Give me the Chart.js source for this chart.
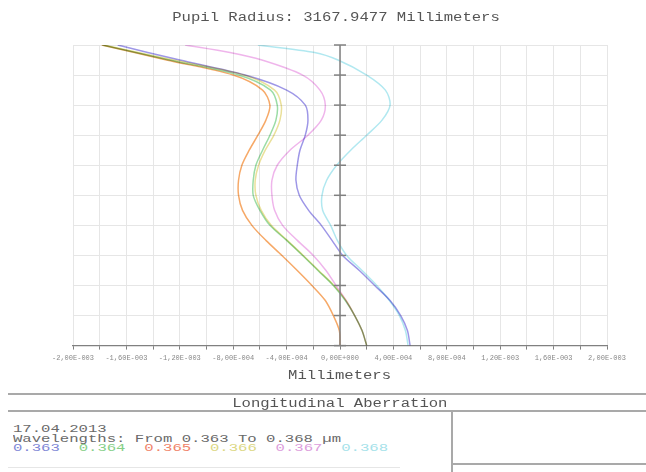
<!DOCTYPE html>
<html>
<head>
<meta charset="utf-8">
<title>Longitudinal Aberration</title>
<script src="https://cdn.jsdelivr.net/npm/chart.js@4.4.0/dist/chart.umd.min.js"></script>
<style>
  html, body { margin: 0; padding: 0; background: #fff; }
  body { width: 646px; height: 472px; position: relative; overflow: hidden;
         font-family: 'Liberation Mono', 'DejaVu Sans Mono', monospace; color: #555; }
  #chartWrap { position: absolute; left: 0; top: 0; width: 646px; height: 390px; }
  .hline { position: absolute; height: 0; border-top: 2px solid #a9a9a9; }
  .vline { position: absolute; width: 0; border-left: 2px solid #a9a9a9; }
  /* the original capture is stretched sideways, so the mono text is widened */
  .row { position: absolute; text-align: center; white-space: pre; font-size: 12px; line-height: 14px; }
  .row span.wide { display: inline-block; transform: scaleX(1.3); }
  #info { position: absolute; left: 13px; top: 425px; font-size: 11px; line-height: 9.5px;
          white-space: pre; color: #6a6a6a; transform: scaleX(1.42); transform-origin: left top; }
</style>
</head>
<body>
<div id="chartWrap"><canvas id="aberChart" width="646" height="390"></canvas></div>

<div class="row" style="left:0; width:672px; top:11px; color:#555;"><span class="wide">Pupil Radius: 3167.9477 Millimeters</span></div>
<div class="row" style="left:0; width:680px; top:369px; color:#555;"><span class="wide">Millimeters</span></div>

<div class="hline" style="left:8px; width:638px; top:393px;"></div>
<div class="row" style="left:0; width:680px; top:397px; color:#555;"><span class="wide">Longitudinal Aberration</span></div>
<div class="hline" style="left:8px; width:638px; top:410px;"></div>
<div class="vline" style="left:451px; top:411px; height:61px;"></div>
<div class="hline" style="left:452px; width:194px; top:463px;"></div>
<div class="hline" style="left:8px; width:392px; top:467px; border-top:1px solid #e6e6e6;"></div>

<div id="info">17.04.2013
Wavelengths: From 0.363 To 0.368 µm
<span id="wlList"></span></div>

<script>
(function() {
  // ----- DATA -----
  // normalized pupil coordinate (vertical axis)
  const pupil = [0, 0.05, 0.1, 0.15, 0.2, 0.25, 0.3, 0.35, 0.4, 0.45, 0.5,
                 0.55, 0.6, 0.65, 0.7, 0.75, 0.8, 0.85, 0.9, 0.95, 0.975, 1];

  const wavelengths = ['0.363', '0.364', '0.365', '0.366', '0.367', '0.368'];

  // longitudinal aberration in millimeters, one list per wavelength
  const ab363 = [0.000525, 0.000505, 0.000455, 0.000375, 0.00026, 0.000145, 0.00002, -0.00006, -0.00014, -0.000235, -0.000305,
                 -0.00033, -0.00032, -0.0003, -0.00026, -0.00024, -0.00026, -0.0004, -0.00071, -0.0012, -0.00144, -0.001665];
  const ab364 = [0.0002, 0.000165, 0.00011, 0.00004, -0.00005, -0.000165, -0.00028, -0.0004, -0.000525, -0.0006, -0.00065,
                 -0.00065, -0.00063, -0.00058, -0.000525, -0.00048, -0.00047, -0.00052, -0.00076, -0.00128, -0.00153, -0.00178];
  const ab365 = [0, -0.000005, -0.00005, -0.00011, -0.00021, -0.00032, -0.000435, -0.000555, -0.00066, -0.00073, -0.00076,
                 -0.00076, -0.000735, -0.00068, -0.000615, -0.000555, -0.000525, -0.00058, -0.0008, -0.0013, -0.00154, -0.001785];
  const ab366 = [0.0002, 0.000165, 0.00011, 0.000045, -0.000045, -0.00016, -0.000275, -0.000395, -0.000515, -0.00059, -0.00063,
                 -0.000635, -0.00061, -0.00056, -0.000495, -0.00045, -0.00044, -0.00049, -0.00072, -0.00125, -0.00151, -0.00177];
  const ab367 = [0.0002, 0.000165, 0.00011, 0.000045, -0.00003, -0.000105, -0.0002, -0.00032, -0.00043, -0.00049, -0.00051,
                 -0.00051, -0.00047, -0.000375, -0.00024, -0.00014, -0.00011, -0.00015, -0.00028, -0.000585, -0.000825, -0.00116];
  const ab368 = [0.00051, 0.00049, 0.000445, 0.00037, 0.000275, 0.000165, 0.00005, -0.00002, -0.00007, -0.00013, -0.000135,
                 -0.0001, -0.000025, 0.00008, 0.0002, 0.000315, 0.000375, 0.00034, 0.0002, -0.000015, -0.00019, -0.000615];

  const seriesValues = [ab363, ab364, ab365, ab366, ab367, ab368];

  // x axis: -2e-3 .. 2e-3 mm, ticks every 2e-4, labels every 4e-4
  const xMin = -0.002, xMax = 0.002, xStep = 0.0002;

  // ----- STYLE -----
  const lineColors = ['rgba(148,140,228,0.9)', 'rgba(138,214,150,0.85)', 'rgba(245,160,88,0.9)',
                      'rgba(230,218,136,0.85)', 'rgba(236,168,232,0.85)', 'rgba(168,230,238,0.9)'];
  const textColors = ['#8088d6', '#86d088', '#f0846a', '#dcd884', '#dc9ddc', '#a6e2ea'];
  const monoFont = "'Liberation Mono', 'DejaVu Sans Mono', monospace";

  // wavelength list under the caption
  document.getElementById('wlList').innerHTML = wavelengths
    .map((w, i) => `<span style="color:${textColors[i]}">${w}</span>`).join('  ');

  // "-1,60E-003" style labels
  function sciLabel(v) {
    const k = Math.round(v / xStep);
    if (k % 2 !== 0) return '';
    const val = k * xStep;
    if (k === 0) return '0,00E+000';
    const e = Math.floor(Math.log10(Math.abs(val)) + 1e-9);
    const mant = (val / Math.pow(10, e)).toFixed(2).replace('.', ',');
    const expStr = (e < 0 ? '-' : '+') + String(Math.abs(e)).padStart(3, '0');
    return mant + 'E' + expStr;
  }

  // curves overlap and darken like in the original plot
  const multiplyLines = {
    id: 'multiplyLines',
    beforeDatasetsDraw(chart) { chart.ctx.save(); chart.ctx.globalCompositeOperation = 'multiply'; },
    afterDatasetsDraw(chart) { chart.ctx.restore(); }
  };

  // center vertical axis with cross ticks
  const centerAxis = {
    id: 'centerAxis',
    afterDatasetsDraw(chart) {
      const { ctx, scales: { x, y } } = chart;
      const x0 = x.getPixelForValue(0);
      ctx.save();
      ctx.strokeStyle = '#808080';
      ctx.lineWidth = 1.5;
      ctx.beginPath();
      ctx.moveTo(x0, y.getPixelForValue(1));
      ctx.lineTo(x0, y.getPixelForValue(0));
      ctx.stroke();
      y.ticks.forEach(t => {
        const py = y.getPixelForValue(t.value);
        ctx.beginPath();
        ctx.moveTo(x0 - 6, py);
        ctx.lineTo(x0 + 6, py);
        ctx.stroke();
      });
      ctx.restore();
    }
  };

  const datasets = seriesValues.map((vals, i) => ({
    label: wavelengths[i],
    data: vals.map((v, j) => ({ x: v, y: pupil[j] })),
    borderColor: lineColors[i],
    backgroundColor: lineColors[i],
    borderWidth: 1.5,
    pointRadius: 0,
    showLine: true,
    tension: 0.3,
    fill: false
  }));

  new Chart(document.getElementById('aberChart').getContext('2d'), {
    type: 'scatter',
    data: { datasets },
    plugins: [multiplyLines, centerAxis],
    options: {
      responsive: false,
      animation: false,
      layout: { padding: { left: 73, right: 39, top: 45, bottom: 24 } },
      plugins: {
        legend: { display: false },
        tooltip: { enabled: false }
      },
      scales: {
        x: {
          type: 'linear',
          min: xMin,
          max: xMax,
          grid: { color: '#e6e6e6', tickColor: '#808080', tickLength: 4 },
          border: { color: '#808080', width: 1.2 },
          ticks: {
            stepSize: xStep,
            autoSkip: false,
            maxRotation: 0,
            padding: 4,
            color: '#888',
            font: { family: monoFont, size: 7 },
            callback: (v) => sciLabel(v)
          }
        },
        y: {
          type: 'linear',
          min: 0,
          max: 1,
          position: { x: 0 },
          grid: { color: '#e6e6e6', drawTicks: false },
          border: { display: false },
          ticks: { display: false, stepSize: 0.1 }
        }
      }
    }
  });
})();
</script>
</body>
</html>
